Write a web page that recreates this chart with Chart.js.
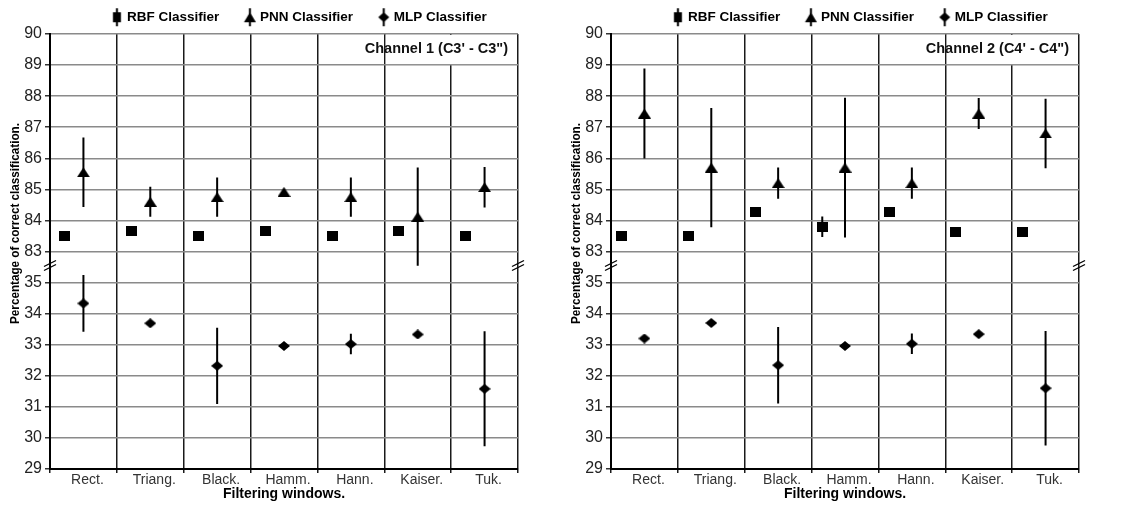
<!DOCTYPE html>
<html>
<head>
<meta charset="utf-8">
<script src="https://cdn.jsdelivr.net/npm/chart.js@4.4.1/dist/chart.umd.min.js"></script>
<style>
  html, body { margin: 0; padding: 0; background: #fff; }
  #wrap { display: flex; width: 1122px; height: 505px; }
  .panel { position: relative; width: 561px; height: 505px; }
</style>
</head>
<body>
<div id="wrap">
  <div class="panel"><canvas id="ch1"></canvas></div>
  <div class="panel"><canvas id="ch2"></canvas></div>
</div>
<script>
// categories and tick labels
const windows = ["Rect.", "Triang.", "Black.", "Hamm.", "Hann.", "Kaiser.", "Tuk."];
const lowerTicks = [29, 30, 31, 32, 33, 34, 35];
const upperTicks = [83, 84, 85, 86, 87, 88, 89, 90];
const seriesNames = ["RBF Classifier", "PNN Classifier", "MLP Classifier"];

// Channel 1 (C3' - C3'')
const rbf1 = [83.5, 83.65, 83.5, 83.65, 83.5, 83.65, 83.5];
const rbf1Err = [0, 0.08, 0, 0.08, 0, 0.08, 0];
const pnn1 = [85.55, 84.6, 84.75, 84.92, 84.75, 84.12, 85.07];
const pnn1Err = [1.12, 0.48, 0.63, 0, 0.63, 1.58, 0.65];
const mlp1 = [34.33, 33.69, 32.32, 32.96, 33.02, 33.33, 31.58];
const mlp1Err = [0.91, 0.08, 1.23, 0.05, 0.33, 0.05, 1.85];

// Channel 2 (C4' - C4'')
const rbf2 = [83.5, 83.5, 84.28, 83.8, 84.28, 83.64, 83.64];
const rbf2Err = [0, 0, 0.08, 0.33, 0.08, 0.08, 0.08];
const pnn2 = [87.44, 85.7, 85.2, 85.7, 85.2, 87.44, 86.8];
const pnn2Err = [1.45, 1.92, 0.5, 2.25, 0.5, 0.5, 1.12];
const mlp2 = [33.2, 33.7, 32.34, 32.96, 33.03, 33.34, 31.6];
const mlp2Err = [0.05, 0.08, 1.23, 0.05, 0.33, 0.05, 1.84];

// broken axis: upper block sits one step above the lower block
const GAP = upperTicks[0] - lowerTicks[lowerTicks.length - 1] - 1;
const toAxis = v => (v > 60 ? v - GAP : v);
const axisTicks = lowerTicks.concat(upperTicks.map(toAxis));
const tickLabel = {};
lowerTicks.concat(upperTicks).forEach(t => { tickLabel[toAxis(t)] = String(t); });

Chart.defaults.font.family = "Arial, 'Liberation Sans', sans-serif";

function shape(g, kind, cx, cy, w, h) {
  g.beginPath();
  if (kind === "square") {
    g.rect(cx - w / 2, cy - h / 2, w, h);
  } else if (kind === "triangle") {
    g.moveTo(cx - w / 2, cy + h / 2);
    g.lineTo(cx, cy - h / 2);
    g.lineTo(cx + w / 2, cy + h / 2);
    g.closePath();
  } else {
    g.moveTo(cx, cy - h / 2);
    g.lineTo(cx + w / 2, cy);
    g.lineTo(cx, cy + h / 2);
    g.lineTo(cx - w / 2, cy);
    g.closePath();
  }
  g.fill();
}

function markerImg(kind, w, h) {
  const c = document.createElement("canvas");
  c.width = w; c.height = h;
  const g = c.getContext("2d");
  g.fillStyle = "#000";
  shape(g, kind, w / 2, h / 2, w, h);
  return c;
}

function legendImg(kind, w, h) {
  const c = document.createElement("canvas");
  c.width = 40; c.height = 20;
  const g = c.getContext("2d");
  g.fillStyle = "#000";
  const mx = 29.2;
  g.fillRect(mx - 1, 1, 2, 18);
  shape(g, kind, mx, 10, w, h);
  return c;
}

const pointImgs = [markerImg("square", 11, 10), markerImg("triangle", 13, 10), markerImg("diamond", 12, 10)];
const legendImgs = [legendImg("square", 8, 10), legendImg("triangle", 12, 10), legendImg("diamond", 11, 10)];

function points(vals, shift) {
  return vals.map((v, i) => ({ x: i + shift, y: toAxis(v) }));
}

function errBars(vals, errs, shift) {
  const out = [];
  vals.forEach((v, i) => {
    if (!errs[i]) return;
    out.push({ x: i + shift, y: toAxis(v - errs[i]) });
    out.push({ x: i + shift, y: toAxis(v + errs[i]) });
    out.push({ x: i + shift, y: null });
  });
  return out;
}

const decor = {
  id: "decor",
  beforeDatasetsDraw(chart, args, opts) {
    const { ctx, chartArea: a, scales: { x, y } } = chart;
    ctx.save();
    // white box behind the channel name
    const bx = x.getPixelForValue(4.5) + 1.5;
    const by = a.top + 1;
    ctx.fillStyle = "#fff";
    ctx.fillRect(bx, by, a.right - 1 - bx, y.getPixelForValue(toAxis(89)) - 1 - by);
    ctx.fillStyle = "#111";
    ctx.font = "bold 14.5px Arial, 'Liberation Sans', sans-serif";
    ctx.textAlign = "right";
    ctx.textBaseline = "middle";
    ctx.fillText(opts.name, a.right - 10, a.top + 15);

    // axis break marks
    const yb = y.getPixelForValue(35.55);
    ctx.strokeStyle = "#000";
    ctx.lineWidth = 1.3;
    [a.left, a.right].forEach(xb => {
      [-2, 2].forEach(d => {
        ctx.beginPath();
        ctx.moveTo(xb - 6, yb + d + 3);
        ctx.lineTo(xb + 6, yb + d - 3);
        ctx.stroke();
      });
    });

    // y axis title
    ctx.translate(a.left - 35, (a.top + a.bottom) / 2 - 28);
    ctx.rotate(-Math.PI / 2);
    ctx.scale(0.9, 1);
    ctx.font = "bold 13px Arial, 'Liberation Sans', sans-serif";
    ctx.textAlign = "center";
    ctx.fillStyle = "#000";
    ctx.fillText("Percentage of correct classification.", 0, 0);
    ctx.restore();
  }
};

function makeChart(id, name, rbf, rbfErr, pnn, pnnErr, mlp, mlpErr, rbfShift) {
  const series = [[rbf, rbfErr, rbfShift], [pnn, pnnErr, 0], [mlp, mlpErr, 0]];
  const datasets = series.map((s, k) => ({
    type: "scatter",
    label: seriesNames[k],
    data: points(s[0], s[2]),
    pointStyle: pointImgs[k],
    pointRadius: 6,
    xAxisID: "x",
    yAxisID: "y"
  })).concat(series.map(s => ({
    type: "scatter",
    label: "err",
    data: errBars(s[0], s[1], s[2]),
    showLine: true,
    spanGaps: false,
    borderColor: "#000",
    borderWidth: 2,
    pointRadius: 0,
    xAxisID: "x",
    yAxisID: "y"
  })));

  return new Chart(document.getElementById(id), {
    type: "scatter",
    data: { datasets },
    plugins: [decor],
    options: {
      responsive: true,
      maintainAspectRatio: false,
      animation: false,
      events: [],
      layout: { padding: { left: 23, right: 2, top: 1.5, bottom: 4 } },
      plugins: {
        decor: { name },
        tooltip: { enabled: false },
        legend: {
          position: "top",
          labels: {
            usePointStyle: true,
            pointStyleWidth: 25,
            padding: 9,
            color: "#000",
            font: { size: 13.5, weight: "bold" },
            filter: item => item.datasetIndex < 3,
            generateLabels: chart =>
              Chart.defaults.plugins.legend.labels.generateLabels(chart)
                .filter(l => l.datasetIndex < 3)
                .map(l => Object.assign(l, { pointStyle: legendImgs[l.datasetIndex] }))
          }
        }
      },
      scales: {
        x: {
          type: "linear",
          min: -0.5,
          max: 6.5,
          afterBuildTicks: s => {
            const t = [];
            for (let v = -0.5; v <= 6.5; v += 0.5) t.push({ value: v });
            s.ticks = t;
          },
          ticks: {
            autoSkip: false,
            maxRotation: 0,
            minRotation: 0,
            padding: 0,
            labelOffset: 4,
            color: "#333",
            font: { size: 14, lineHeight: 1 },
            callback: v => (Number.isInteger(v) ? windows[v] : "")
          },
          grid: {
            color: c => (Number.isInteger(c.tick.value) ? "rgba(0,0,0,0)" : "#1a1a1a"),
            lineWidth: 1.5,
            tickLength: 4
          },
          border: { color: "#000", width: 2 },
          title: {
            display: true,
            text: "Filtering windows.",
            color: "#000",
            font: { size: 14, weight: "bold", lineHeight: 1 },
            padding: { top: 0, bottom: 0 }
          }
        },
        y: {
          type: "linear",
          position: "left",
          min: lowerTicks[0],
          max: toAxis(upperTicks[upperTicks.length - 1]),
          afterBuildTicks: s => { s.ticks = axisTicks.map(v => ({ value: v })); },
          afterFit: s => { s.width = 27; },
          ticks: {
            padding: 3,
            color: "#222",
            font: { size: 16 },
            callback: v => tickLabel[v]
          },
          grid: { color: "#8a8a8a", lineWidth: 1.5, tickLength: 5, tickColor: "#333" },
          border: { color: "#000", width: 2 }
        },
        pad: {
          type: "linear",
          position: "right",
          display: true,
          ticks: { display: false },
          grid: { display: false, drawTicks: false },
          border: { display: false },
          afterFit: s => { s.width = 41; }
        }
      }
    }
  });
}

makeChart("ch1", "Channel 1 (C3' - C3\")", rbf1, rbf1Err, pnn1, pnn1Err, mlp1, mlp1Err, -0.28);
makeChart("ch2", "Channel 2 (C4' - C4\")", rbf2, rbf2Err, pnn2, pnn2Err, mlp2, mlp2Err, -0.34);
</script>
</body>
</html>
